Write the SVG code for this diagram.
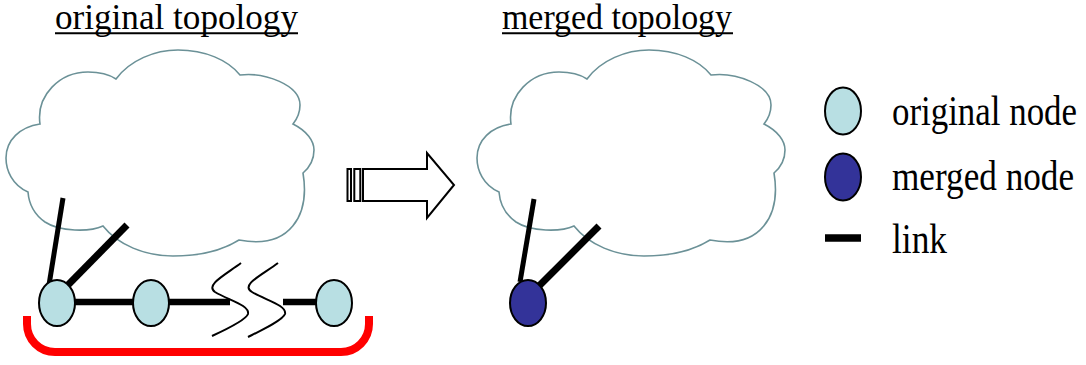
<svg xmlns="http://www.w3.org/2000/svg" width="1086" height="365" viewBox="0 0 1086 365">
<style>
.cloud{fill:#fff;stroke:#6b9197;stroke-width:1.6}
.orig{fill:#b8dfe3;stroke:#000;stroke-width:2}
.merged{fill:#333399;stroke:#000;stroke-width:2}
.link{stroke:#000;fill:none}
.zig{stroke:#000;stroke-width:2;fill:none}
.ul{stroke:#000;stroke-width:2}
</style>
<defs>
<path id="cloudShape" d="M116,79 C130,60 155,50 178,50 C205,50 228,60 240,75 C265,72 300,85 300,105 C300,113 297,119 293,124 C307,131 314,141 314,150 C314,160 310,167 303,173 C310,215 290,250 239,240 C220,252 195,256 173,256 C145,256 118,245 103,226 C90,232 60,232 45,222 C35,215 29,205 28,192 C12,185 6,170 6,158 C6,140 20,127 40,124 C36,95 60,72 88,72 C100,72 110,75 116,79 Z"/>
</defs>
<rect width="1086" height="365" fill="#fff"/>
<g id="titles" font-family="Liberation Serif" font-size="35" fill="#000">
<text x="55" y="29" textLength="243" lengthAdjust="spacingAndGlyphs">original topology</text>
<line class="ul" x1="55" y1="33.3" x2="298" y2="33.3"/>
<text x="502" y="29" textLength="230" lengthAdjust="spacingAndGlyphs">merged topology</text>
<line class="ul" x1="502" y1="33.3" x2="733" y2="33.3"/>
</g>
<g id="cloud-original"><use href="#cloudShape" class="cloud"/></g>
<g id="cloud-merged"><use href="#cloudShape" class="cloud" transform="translate(471,0)"/></g>
<g id="connectors">
<line class="link" x1="49" y1="285" x2="63" y2="198" stroke-width="5"/>
<line class="link" x1="66" y1="287" x2="127" y2="225" stroke-width="7"/>
<line class="link" x1="70" y1="302" x2="140" y2="302" stroke-width="6.5"/>
<line class="link" x1="160" y1="302" x2="230" y2="302" stroke-width="6.5"/>
<line class="link" x1="283" y1="302" x2="325" y2="302" stroke-width="6.5"/>
<path class="zig" d="M241,263 C225,275 205,285 215,292 C228,300 250,305 248,314 C246,320 225,330 212,336"/>
<path class="zig" d="M278,263 C262,275 240,285 252,292 C265,300 287,305 285,314 C283,320 262,330 248,337"/>
<line class="link" x1="520" y1="282" x2="534" y2="199" stroke-width="5"/>
<line class="link" x1="537" y1="288" x2="599" y2="226" stroke-width="7"/>
</g>
<g id="node-o1"><ellipse class="orig" cx="57" cy="303" rx="18" ry="23"/></g>
<g id="node-o2"><ellipse class="orig" cx="151" cy="303" rx="18" ry="23"/></g>
<g id="node-o3"><ellipse class="orig" cx="334" cy="303" rx="18" ry="23"/></g>
<g id="node-m1"><ellipse class="merged" cx="528" cy="303" rx="18" ry="23"/></g>
<g id="bracket"><path d="M27,316 V324 A28,28 0 0 0 55,352 H341 A28,28 0 0 0 369,324 V316" fill="none" stroke="#ff0000" stroke-width="8"/></g>
<g id="arrow" fill="#fff" stroke="#000" stroke-width="2">
<rect x="347.5" y="169" width="3.5" height="32"/>
<rect x="354.3" y="169" width="6" height="32"/>
<path d="M363,169 H427 V153 L454,185 L427,218 V201 H363 Z"/>
</g>
<g id="legend" font-family="Liberation Serif" font-size="43" fill="#000">
<ellipse class="orig" cx="843" cy="111" rx="18" ry="23.5"/>
<text transform="translate(892,125) scale(0.81,1)" x="0" y="0" textLength="228.4" lengthAdjust="spacingAndGlyphs">original node</text>
<ellipse class="merged" cx="843" cy="177" rx="18" ry="23.5"/>
<text transform="translate(892,190) scale(0.81,1)" x="0" y="0" textLength="224.7" lengthAdjust="spacingAndGlyphs">merged node</text>
<line x1="825" y1="238" x2="861" y2="238" stroke="#000" stroke-width="7.5"/>
<text transform="translate(892,253) scale(0.81,1)" x="0" y="0" textLength="67.9" lengthAdjust="spacingAndGlyphs">link</text>
</g>
</svg>
